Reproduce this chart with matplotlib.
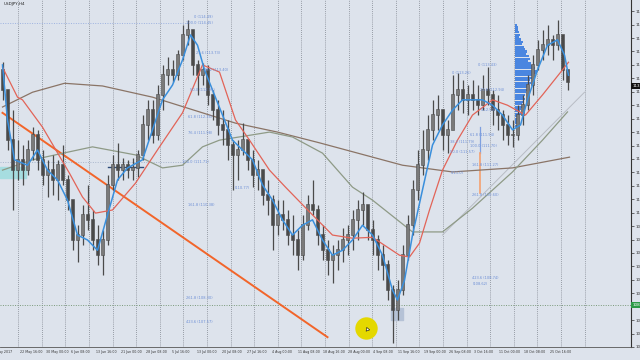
import numpy as np
import matplotlib
matplotlib.use("Agg")
import matplotlib.pyplot as plt

# USDJPY H4 - candles (one candle per ~5 px slot)
highs = [113.57, 112.84, 112.50, 111.83, 111.72, 111.83, 112.12, 112.06, 111.61, 111.39,
         111.50, 111.39, 111.72, 111.05, 110.49, 109.93, 110.38, 110.83, 110.27, 109.93,
         109.82, 111.05, 111.50, 111.77, 111.43, 111.39, 111.43, 111.61, 112.39, 112.73,
         112.73, 113.06, 113.51, 113.69, 113.62, 113.84, 114.40, 114.51, 114.29, 113.62,
         113.55, 113.51, 112.95, 112.73, 112.50, 112.28, 111.83, 111.83, 112.21, 111.83,
         111.61, 111.39, 111.16, 110.94, 110.60, 110.49, 110.49, 110.27, 110.16, 109.82,
         110.16, 110.60, 110.94, 110.38, 109.93, 109.60, 109.49, 109.60, 109.87, 109.93,
         110.27, 110.49, 110.67, 110.38, 110.05, 109.71, 109.49, 109.15, 108.59, 108.70,
         109.49, 110.16, 110.94, 111.61, 112.06, 112.39, 112.73, 112.84, 112.50, 112.28,
         113.28, 113.33, 113.17, 113.06, 113.17, 113.06, 113.28, 113.46, 112.95, 112.84,
         112.50, 112.39, 112.28, 112.61, 112.84, 113.28, 113.73, 114.07, 114.29, 114.40,
         114.18, 114.51, 113.95, 113.40]
lows = [112.73, 111.61, 110.27, 110.94, 110.83, 111.05, 111.39, 111.16, 110.83, 110.56,
        110.60, 110.49, 110.83, 110.27, 109.37, 109.11, 109.49, 109.82, 109.37, 109.04,
        108.82, 109.49, 110.72, 110.94, 110.94, 110.98, 110.94, 111.00, 111.39, 111.83,
        111.77, 111.83, 112.50, 113.06, 113.13, 113.17, 113.62, 113.95, 113.28, 112.84,
        113.06, 112.61, 112.28, 111.94, 111.72, 111.39, 110.72, 110.94, 111.50, 111.16,
        110.78, 110.72, 110.38, 110.16, 109.37, 109.71, 109.82, 109.49, 109.26, 108.93,
        109.15, 109.82, 110.16, 109.49, 109.15, 108.82, 108.64, 108.93, 109.11, 109.26,
        109.37, 109.60, 109.93, 109.60, 109.26, 108.93, 108.70, 108.26, 107.30, 107.81,
        108.37, 109.15, 109.71, 110.49, 111.05, 111.39, 111.83, 112.06, 111.61, 111.54,
        112.17, 112.50, 112.44, 112.39, 112.50, 112.39, 112.50, 112.61, 112.17, 112.06,
        111.83, 111.72, 111.68, 111.83, 112.17, 112.50, 112.84, 113.40, 113.62, 113.73,
        113.62, 113.84, 113.17, 112.95]
closes = [112.95, 111.83, 111.16, 111.39, 111.16, 111.61, 111.94, 111.39, 111.05, 111.16,
          110.94, 111.27, 110.94, 110.49, 109.60, 109.71, 110.16, 110.05, 109.60, 109.26,
          109.60, 110.83, 111.27, 111.16, 111.27, 111.16, 111.21, 111.50, 112.17, 112.50,
          111.94, 112.84, 113.28, 113.40, 113.28, 113.73, 114.18, 114.29, 113.51, 113.28,
          113.40, 112.84, 112.50, 112.17, 112.06, 111.72, 111.50, 111.61, 111.83, 111.39,
          111.05, 111.16, 110.60, 110.49, 109.93, 110.16, 110.05, 109.71, 109.60, 109.26,
          109.93, 110.38, 110.27, 109.71, 109.37, 109.15, 109.26, 109.37, 109.60, 109.71,
          110.05, 110.27, 110.38, 109.82, 109.60, 109.26, 109.04, 108.48, 108.03, 108.48,
          109.26, 109.93, 110.72, 111.27, 111.61, 112.06, 112.39, 112.50, 111.94, 112.06,
          112.84, 112.95, 112.73, 112.84, 112.73, 112.61, 112.95, 112.84, 112.50, 112.39,
          112.17, 111.94, 111.94, 112.39, 112.61, 113.06, 113.51, 113.84, 113.95, 114.07,
          113.95, 114.18, 113.40, 113.13]
first_open = 113.40
opens = [first_open] + closes[:-1]

# moving averages (x in candle slots, price)
ma_fast_x = [0, 1, 2.4, 5, 7, 9, 11, 13, 15, 17, 19, 21, 23, 25, 28, 30, 32, 34, 36, 37.6, 39,
             40.4, 42, 44, 46, 48, 50, 52, 54, 56, 58, 60, 62, 64, 66, 68, 70, 72, 74, 76, 78,
             79, 80.4, 82, 84, 86, 88, 90, 92, 94, 96, 98, 100, 102, 103.6, 105, 107, 109,
             111, 112.4, 113.2]
ma_fast_y = [113.51, 112.28, 111.39, 111.27, 111.61, 111.16, 110.94, 110.49, 109.71, 109.60,
             109.37, 110.16, 110.94, 111.21, 111.39, 112.06, 112.73, 113.06, 113.62, 114.18,
             113.95, 113.40, 112.95, 112.39, 111.83, 111.61, 111.39, 110.83, 110.49, 110.05,
             109.71, 109.93, 110.05, 109.60, 109.26, 109.37, 109.60, 109.93, 109.71, 109.26,
             108.48, 108.26, 108.70, 109.71, 110.72, 111.72, 112.17, 112.50, 112.73, 112.73,
             112.73, 112.61, 112.39, 112.06, 112.17, 112.73, 113.40, 113.95, 114.07, 113.73,
             113.28]
ma_red_x = [0, 3, 4, 8, 13.4, 16, 18.6, 22, 26.6, 31.4, 36, 40, 43.4, 46.6, 49.4, 53.4, 56.6,
            62, 66, 70, 74, 79.4, 81.4, 83.4, 85.4, 88, 91, 94, 98, 101, 104.6, 108, 112, 113.2]
ma_red_y = [113.46, 112.79, 112.73, 112.12, 111.09, 110.56, 110.20, 110.27, 110.87, 111.68,
            112.44, 113.51, 113.35, 112.28, 111.83, 111.16, 110.78, 110.16, 109.71, 109.64,
            109.66, 109.26, 109.22, 109.53, 110.27, 111.16, 111.83, 112.39, 112.73, 112.61,
            112.39, 112.84, 113.40, 113.57]
ma_green_x = [0, 6, 13.4, 18, 26.6, 32, 36, 40, 43.4, 53.4, 58, 64, 70, 74, 82, 88, 94, 102,
              108, 113]
ma_green_y = [111.16, 111.39, 111.57, 111.68, 111.50, 111.21, 111.27, 111.68, 111.83, 112.01,
              111.90, 111.54, 110.78, 110.49, 109.78, 109.78, 110.31, 111.12, 111.83, 112.46]
ma_brown_x = [0, 6, 12.4, 20, 30, 40, 46.6, 55, 63.4, 80, 90, 102, 113.4]
ma_brown_y = [112.57, 112.90, 113.10, 113.04, 112.79, 112.44, 112.21, 112.01, 111.77, 111.27,
              111.12, 111.21, 111.45]

# trend lines
trend_orange_x = [0, 65]
trend_orange_y = [112.44, 107.43]
trend_grey_x = [88, 116.4]
trend_grey_y = [109.71, 112.90]

# volume profile (top to bottom)
vp_top, vp_bottom = 114.40, 112.15
vp_volume = [2, 3, 3, 4, 5, 4, 6, 8, 7, 9, 10, 12, 11, 14, 15, 13, 16, 18, 20, 22, 21, 19,
             17, 15, 16, 14, 12, 13, 11, 10, 9, 10, 8, 7, 8, 6, 5, 6, 4, 3, 3, 2, 2]

# fibonacci labels
fib_left = [(38.4, 114.58, "0 (114.49)"), (36.6, 114.45, "100.0 (114.45)"),
            (38.6, 113.78, "23.6 (113.73)"), (40.4, 113.40, "38.2 (113.40)"),
            (37.4, 112.95, "50.0 (112.95)"), (37.0, 112.35, "61.8 (112.34)"),
            (37.0, 111.98, "76.4 (111.98)"), (36.0, 111.34, "100.0 (111.71)"),
            (46.4, 110.77, "(110.77)"), (37.0, 110.38, "161.8 (110.38)"),
            (36.6, 108.30, "261.8 (108.30)"), (36.6, 107.77, "423.6 (107.57)")]
fib_right = [(90.0, 113.33, "0 (113.26)"), (95.0, 113.51, "0 (113.43)"),
             (95.6, 112.95, "23.6 (112.94)"), (95.6, 112.50, "(112.50)"),
             (89.4, 111.79, "38.2 (111.79)"), (89.4, 111.57, "50.0 (111.57)"),
             (93.6, 111.94, "61.8 (111.94)"), (93.6, 111.70, "100.0 (111.70)"),
             (94.0, 111.27, "161.8 (111.27)"), (89.6, 111.10, "(111.0)"),
             (94.0, 110.60, "261.8 (110.60)"), (94.0, 108.74, "423.6 (108.74)"),
             (94.0, 108.62, "(108.62)")]

first_date = "16 May 2017"
date_labels = ["22 May 16:00", "30 May 00:00", "6 Jun 08:00", "13 Jun 16:00",
               "21 Jun 00:00", "28 Jun 08:00", "5 Jul 16:00", "13 Jul 00:00", "20 Jul 08:00",
               "27 Jul 16:00", "4 Aug 00:00", "11 Aug 08:00", "18 Aug 16:00", "28 Aug 00:00",
               "4 Sep 08:00", "11 Sep 16:00", "19 Sep 00:00", "26 Sep 08:00", "3 Oct 16:00",
               "11 Oct 00:00", "18 Oct 08:00", "25 Oct 16:00"]

bid_price = 113.04
level_price = 108.15

bg = "#dde3ec"
fig = plt.figure(figsize=(6.4, 3.6), dpi=100, facecolor=bg)
ax = fig.add_axes([0, 13 / 360, 631 / 640, 347 / 360], facecolor=bg)
ax.set_xlim(-0.5, 125.7)
ax.set_ylim(107.21, 114.96)

# vertical grid
for gx in np.arange(3.14, 120, 4.72):
    ax.axvline(gx, color="#80858f", lw=0.6, ls=(0, (1, 1.5)), zorder=1)

# boxes
ax.fill_between([-0.5, 4.6], 110.98, 111.23, color="#a6dde0", zorder=2)
ax.fill_between([77.6, 80.0], 107.81, 108.08, color="#b5c2d6", zorder=2)

# horizontal levels
ax.plot([-0.5, 37], [114.45, 114.45], color="#9db2e0", lw=0.7, ls=(0, (1, 1.5)), zorder=2)
ax.plot([-0.5, 37], [111.34, 111.34], color="#a9b6cc", lw=0.7, ls=(0, (1, 1.5)), zorder=2)
ax.axhline(level_price, color="#7a9a7a", lw=0.7, ls=(0, (1, 1.5)), zorder=2)
ax.plot([21, 28], [111.23, 111.23], color="#2d4a78", lw=1.0, zorder=4)

# volume profile
vp_levels = np.linspace(vp_top, vp_bottom, len(vp_volume))
vp_h = (vp_top - vp_bottom) / len(vp_volume)
vp_len = np.array(vp_volume) / max(vp_volume) * 4.6
ax.barh(vp_levels, vp_len, height=vp_h * 0.9, left=102.4, color="#4a86e0", zorder=2)

# trend lines
ax.plot(trend_orange_x, trend_orange_y, color="#f2652a", lw=1.4, zorder=3)
ax.plot(trend_grey_x, trend_grey_y, color="#b8bcc4", lw=0.7, zorder=3)
ax.plot([95.4, 95.4], [112.12, 111.54], color="#7ea0e0", lw=0.9, zorder=3)
ax.plot([95.4, 95.4], [111.54, 110.65], color="#f5a070", lw=1.2, zorder=3)

# moving averages
ax.plot(ma_brown_x, ma_brown_y, color="#8a7466", lw=0.9, zorder=3)
ax.plot(ma_green_x, ma_green_y, color="#8e9a86", lw=0.9, zorder=3)
ax.plot(ma_red_x, ma_red_y, color="#e26458", lw=0.9, zorder=5)

# candles
idx = np.arange(len(closes))
o = np.array(opens)
c = np.array(closes)
ax.vlines(idx, lows, highs, color="#4a4a4a", lw=0.9, zorder=4)
ax.bar(idx, np.abs(c - o) + 0.02, bottom=np.minimum(o, c), width=0.72,
       color=np.where(c >= o, "#7a7a7a", "#4a4a4a"), edgecolor="#4a4a4a", lw=0.4, zorder=4)

ax.plot(ma_fast_x, ma_fast_y, color="#3a8fdc", lw=1.1, zorder=6)

# fib texts
for fx, fy, t in fib_left + fib_right:
    ax.text(fx, fy, t, fontsize=2.6, color="#6d8fd6", va="center", ha="left", zorder=7)

ax.text(0.2, 114.88, "USDJPY,H4", fontsize=3, color="#222222", va="center")

# cursor highlight
ax.scatter([72.6], [107.63], s=260, color="#e4d800", zorder=8, lw=0)
ax.scatter([72.8], [107.62], s=10, marker=(3, 0, 20), color="white",
           edgecolor="black", lw=0.4, zorder=9)

# axes styling
for s in ["top", "left"]:
    ax.spines[s].set_visible(False)
ax.spines["right"].set_color("#333333")
ax.spines["right"].set_linewidth(0.8)
ax.spines["bottom"].set_color("#555555")
ax.spines["bottom"].set_linewidth(0.6)

ax.yaxis.tick_right()
yt = np.arange(107.21, 114.8, 0.30)
ax.set_yticks(yt)
ax.set_yticklabels(["%.3f" % v for v in yt])
ax.tick_params(axis="y", labelsize=3, colors="#333333", length=2, width=0.5, pad=1)

xt = np.arange(1, len(date_labels) + 1) * 5.04 - 1.44
ax.set_xticks(xt)
ax.set_xticklabels(date_labels, ha="left")
ax.tick_params(axis="x", labelsize=2.3, colors="#333333", length=0, pad=2.5)
ax.text(-2.3, -0.010, first_date, transform=ax.get_xaxis_transform(), fontsize=2.3,
        color="#333333", ha="left", va="top", clip_on=False)

# price boxes on the right axis
ax.text(1.002, (bid_price - 107.21) / (114.96 - 107.21), "%.3f" % bid_price,
        transform=ax.transAxes, fontsize=3, color="white", va="center", ha="left",
        bbox=dict(boxstyle="square,pad=0.2", fc="#111111", ec="none"), zorder=10, clip_on=False)
ax.text(1.002, (level_price - 107.21) / (114.96 - 107.21), "%.3f" % level_price,
        transform=ax.transAxes, fontsize=3, color="white", va="center", ha="left",
        bbox=dict(boxstyle="square,pad=0.2", fc="#2c9a46", ec="none"), zorder=10, clip_on=False)

fig.savefig("out.png", dpi=100, facecolor=bg)
